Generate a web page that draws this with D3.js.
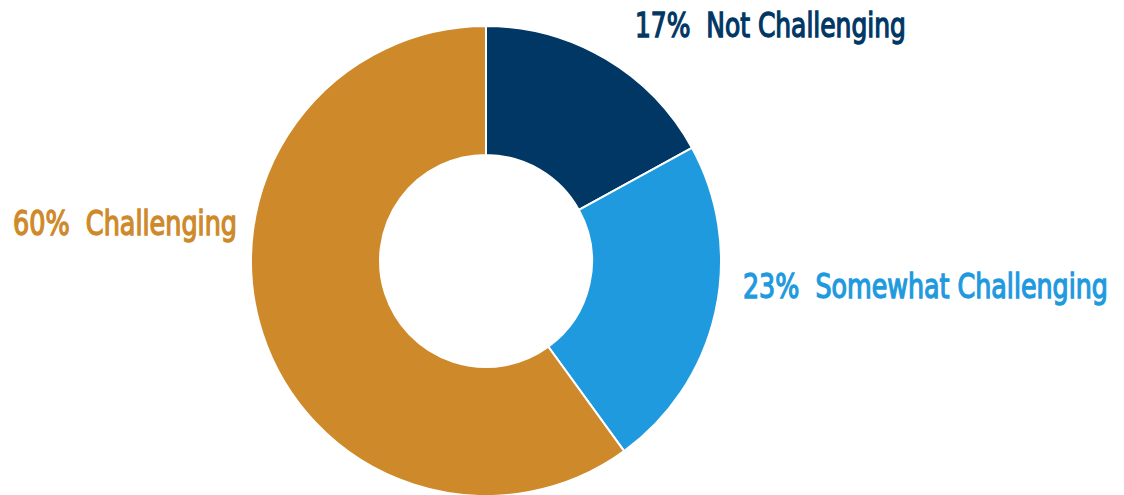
<!doctype html>
<html>
<head>
    <style>
        body { margin: 0; background: #fff; }
        .label {
            font-family: "DejaVu Sans Condensed", "Liberation Sans Narrow", "Roboto", sans-serif;
            font-size: 33px;
            white-space: pre;
            stroke-width: 1.3px;
        }
    </style>
    <script src="https://d3js.org/d3.v7.min.js"></script>
</head>
<body>
<svg width="1124" height="495"></svg>
<script>

    // survey shares
    var categories = ["Not Challenging", "Somewhat Challenging", "Challenging"];
    var values = [17, 23, 60];
    var colors = ["#003764", "#1f9ade", "#ce8a2a"];

    var svg = d3.select("svg"),
        cx = 486,
        cy = 261,
        outerR = 235,
        innerR = 106;

    var data = categories.map(function(c, i) {
        return { name: c, value: values[i], color: colors[i] };
    });

    var pie = d3.pie()
        .sort(null)
        .value(function(d) { return d.value; });

    var arc = d3.arc()
        .innerRadius(innerR)
        .outerRadius(outerR);

    var g = svg.append("g")
        .attr("transform", "translate(" + cx + "," + cy + ")");

    g.selectAll("path")
     .data(pie(data))
     .enter().append("path")
     .attr("d", arc)
     .attr("fill", function(d) { return d.data.color; })
     .attr("stroke", "#fff")
     .attr("stroke-width", 2);

    // label placement, relative to the donut centre (font squeezed to look condensed)
    var labelPos = [
        { x: 149, y: -224, anchor: "start", width: 271 },
        { x: 257, y: 37, anchor: "start", width: 365 },
        { x: -249, y: -26, anchor: "end", width: 224 }
    ];

    g.selectAll(".label")
     .data(data)
     .enter().append("text")
     .attr("class", "label")
     .attr("text-anchor", function(d, i) { return labelPos[i].anchor; })
     .attr("fill", function(d) { return d.color; })
     .attr("stroke", function(d) { return d.color; })
     .text(function(d) { return d.value + "%  " + d.name; })
     .each(function(d, i) {
         var p = labelPos[i],
             k = p.width / this.getComputedTextLength();
         d3.select(this).attr("transform",
             "translate(" + p.x + "," + p.y + ") scale(" + k + ",1)");
     });

</script>
</body>
</html>
